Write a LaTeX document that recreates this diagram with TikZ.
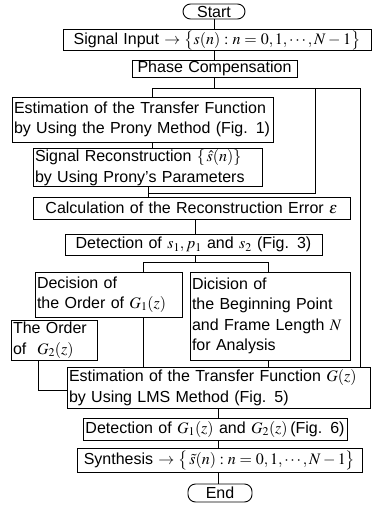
\documentclass[tikz,border=0pt]{standalone}
\usepackage{mathptmx}
\usepackage[no-math]{fontspec}
\setmainfont{Liberation Sans}
\usetikzlibrary{calc}

\tikzset{
  box/.style={draw, line width=0.9pt, inner xsep=2pt, inner ysep=1pt,
    align=left, anchor=center, font=\fontsize{16}{20.5}\selectfont},
  onebox/.style={box, align=center},
  term/.style={draw, line width=0.9pt, rounded corners=7.5pt, inner sep=0pt,
    align=center, anchor=center, font=\fontsize{16}{20.5}\selectfont},
  link/.style={line width=0.8pt}
}

\begin{document}
\begin{tikzpicture}[x=1pt,y=-1pt]
\useasboundingbox (0,0) rectangle (374,512);

% terminals
\node[term, minimum width=62pt, minimum height=15pt] (start) at (214,11.5) {Start};
\node[term, minimum width=64pt, minimum height=18pt] (endn) at (220,493) {End};

% process boxes
\node[onebox, text width=304pt, minimum height=20pt] (sig) at (217,40)
  {Signal Input $\rightarrow\bigl\{s(n): n=0,1,\cdots,N-1\bigr\}$};
\node[onebox, text width=161pt, minimum height=17pt] (phase) at (214.5,68.5)
  {Phase Compensation};
\node[box, text width=257pt, minimum height=45pt] (prony) at (142.5,119.5)
  {Estimation of the Transfer Function\\by Using the Prony Method (Fig. 1)};
\node[box, text width=225pt, minimum height=37pt] (recon) at (147.5,167.5)
  {Signal Reconstruction $\{\,\hat{s}(n)\}$\\by Using Prony's Parameters};
\node[onebox, text width=313pt, minimum height=22pt] (calc) at (191.5,208)
  {Calculation of the Reconstruction Error $\varepsilon$};
\node[onebox, text width=253pt, minimum height=21pt] (det1) at (193.5,244.5)
  {Detection of $s_1, p_1$ and $s_2$ (Fig. 3)};
\node[box, text width=143pt, minimum height=45pt] (dec) at (108.5,294.5)
  {Decision of\\the Order of $G_1(z)$};
\node[box, text width=156pt, minimum height=88pt] (dic) at (270,316)
  {Dicision of\\the Beginning Point\\and Frame Length $N$\\for Analysis};
\node[box, text width=82pt, minimum height=40pt] (g2) at (54,340)
  {The Order\\of\ \ $G_2(z)$};
\node[box, text width=299pt, minimum height=41pt] (lms) at (218.5,387.5)
  {Estimation of the Transfer Function $G(z)$\\by Using LMS Method (Fig. 5)};
\node[onebox, text width=260pt, minimum height=22pt] (det2) at (215,429)
  {Detection of $G_1(z)$ and $G_2(z)$\,(Fig. 6)};
\node[onebox, text width=281pt, minimum height=24pt] (syn) at (219.5,460)
  {Synthesis $\rightarrow\bigl\{\,\tilde{s}(n): n=0,1,\cdots,N-1\bigr\}$};

% junction points of the connectors
\coordinate (jA) at (152,88);
\coordinate (jB) at (315,88);
\coordinate (jC) at (360,88);
\coordinate (jD) at (148,193);
\coordinate (jE) at (315,193);
\coordinate (jM) at (195,262);
\coordinate (jF) at (143,262);
\coordinate (jG) at (268,262);
\coordinate (jH) at (38,390);

% connectors
\draw[link] (start.south) -- (start.south |- sig.north);
\draw[link] (sig.south -| phase) -- (phase.north);
\draw[link] (phase.south) -- (phase.south |- jA);
\draw[link] (jA) -- (jC);
\draw[link] (jA) -- (jA |- prony.north);
\draw[link] (jA |- prony.south) -- (jA |- recon.north);
\draw[link] (jD |- recon.south) -- (jD |- calc.north);
\draw[link] (jD) -- (jE) -- (jB);
\draw[link] (jC) -- (jC |- lms.north);
\draw[link] (jM |- calc.south) -- (jM |- det1.north);
\draw[link] (jM |- det1.south) -- (jM);
\draw[link] (jF) -- (jG);
\draw[link] (jF) -- (jF |- dec.north);
\draw[link] (jG) -- (jG |- dic.north);
\draw[link] (jF |- dec.south) -- (jF |- lms.north);
\draw[link] (jG |- dic.south) -- (jG |- lms.north);
\draw[link] (jH |- g2.south) -- (jH) -- (jH -| lms.west);
\draw[link] (lms.south) -- (lms.south |- det2.north);
\draw[link] (lms.south |- det2.south) -- (lms.south |- syn.north);
\draw[link] (lms.south |- syn.south) -- (lms.south |- endn.north);
\end{tikzpicture}
\end{document}
